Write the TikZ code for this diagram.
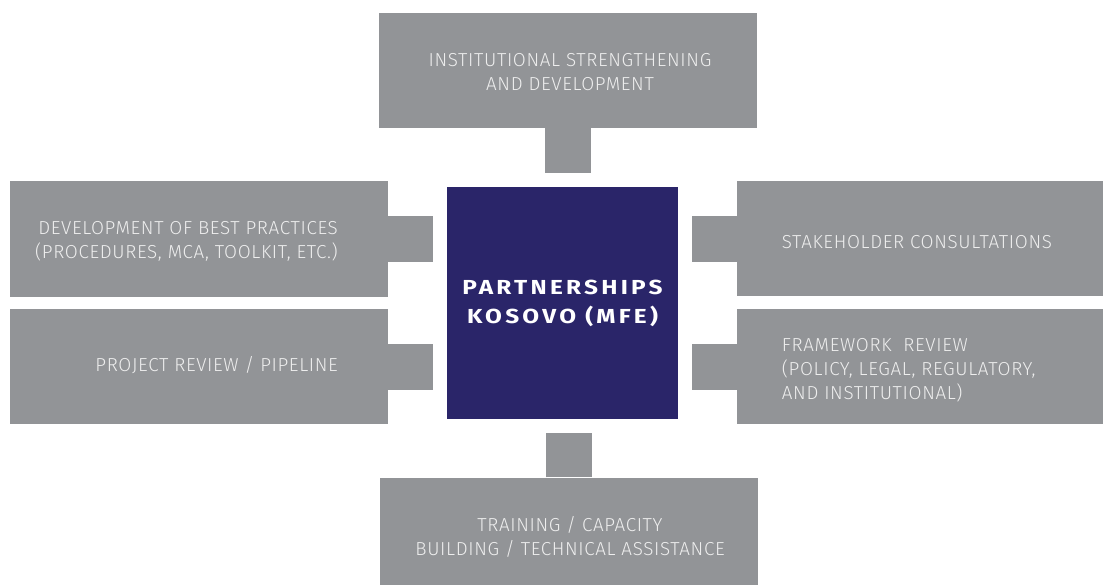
\documentclass[tikz,border=0pt]{standalone}
\usepackage{fontspec}
\setmainfont[LetterSpace=3.5]{Fira Sans Light}
\newfontfamily\hubfont[LetterSpace=16,FakeStretch=1.2]{Fira Sans}
\definecolor{boxgrey}{HTML}{929497}
\definecolor{hubblue}{HTML}{2A2569}
\definecolor{boxtext}{HTML}{EEEEEE}

\begin{document}
\begin{tikzpicture}[x=1pt,y=-1pt]
  \tikzset{
    card/.style={fill=boxgrey, inner sep=0pt,
      minimum width=378pt, minimum height=115pt},
    cardtext/.style={text=boxtext, inner sep=0pt,
      font=\fontsize{18.8}{24}\selectfont},
    stub/.style={draw=boxgrey, line width=46pt, shorten >=14pt},
  }
  \useasboundingbox (0,0) rectangle (1103,585);

  % the partnership in the middle
  \node[fill=hubblue, minimum size=231pt, inner sep=0pt, text=white,
    align=center, font=\hubfont\bfseries\fontsize{20.3}{29}\selectfont]
    (hub) at (562.5,303) {PARTNERSHIPS\\KOSOVO (MFE)};

  % grey cards round it (right and bottom ones run off the page)
  \node[card] (inst) at (568,70.5) {};
  \node[card, minimum height=116pt] (best) at (199,238.7) {};
  \node[card] (pipe) at (199,366.5) {};
  \node[card, minimum width=374pt] (stake) at (924,238.7) {};
  \node[card, minimum width=374pt] (frame) at (924,366.5) {};
  \node[card] (train) at (569,535) {};

  % short thick stubs pointing at the hub
  \draw[stub] (inst.south) -- (inst.south |- hub.north);
  \draw[stub] (train.north) -- (train.north |- hub.south);
  \foreach \card in {best,pipe}
    \draw[stub] (\card.east) -- (\card.east -| hub.west);
  \foreach \card in {stake,frame}
    \draw[stub] (\card.west) -- (\card.west -| hub.east);

  % card texts
  \node[cardtext, align=center] (insttext) at (570,72)
    {INSTITUTIONAL STRENGTHENING\\AND DEVELOPMENT};
  \node[cardtext, align=right, anchor=east] (besttext) at (338,241.3)
    {DEVELOPMENT OF BEST PRACTICES\\(PROCEDURES, MCA, TOOLKIT, ETC.)};
  \node[cardtext, anchor=east] (pipetext) at (338,365)
    {PROJECT REVIEW / PIPELINE};
  \node[cardtext, anchor=west] (staketext) at (781.7,241.7)
    {STAKEHOLDER CONSULTATIONS};
  \node[cardtext, align=left, anchor=west] (frametext) at (781.7,370)
    {FRAMEWORK\ \ REVIEW\\(POLICY, LEGAL, REGULATORY,\\AND INSTITUTIONAL)};
  \node[cardtext, align=center] (traintext) at (570,537)
    {TRAINING / CAPACITY\\BUILDING / TECHNICAL ASSISTANCE};
\end{tikzpicture}
\end{document}
